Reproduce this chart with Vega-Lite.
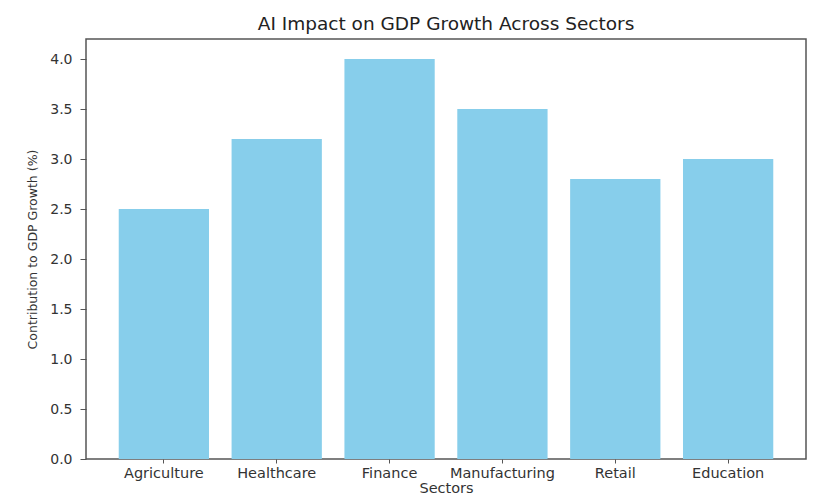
{
  "$schema": "https://vega.github.io/schema/vega-lite/v6.json",
  "width": 720,
  "height": 420,
  "autosize": {"type": "none"},
  "padding": {"left": 86, "top": 39, "right": 24, "bottom": 38},
  "background": "white",
  "title": {
    "text": "AI Impact on GDP Growth Across Sectors",
    "font": "DejaVu Sans",
    "fontSize": 18.5,
    "fontWeight": "normal",
    "color": "#222222",
    "anchor": "middle",
    "offset": 6
  },
  "data": {
    "values": [
      {"Sector": "Agriculture", "Contribution": 2.5},
      {"Sector": "Healthcare", "Contribution": 3.2},
      {"Sector": "Finance", "Contribution": 4.0},
      {"Sector": "Manufacturing", "Contribution": 3.5},
      {"Sector": "Retail", "Contribution": 2.8},
      {"Sector": "Education", "Contribution": 3.0}
    ]
  },
  "mark": {"type": "bar", "color": "#87CEEB"},
  "encoding": {
    "x": {
      "field": "Sector",
      "type": "nominal",
      "sort": null,
      "scale": {"paddingInner": 0.2, "paddingOuter": 0.29},
      "axis": {
        "title": "Sectors",
        "labelAngle": 0,
        "labelFont": "DejaVu Sans",
        "labelFontSize": 14.5,
        "labelColor": "#333333",
        "labelPadding": 3,
        "tickSize": 4,
        "tickColor": "#555555",
        "domain": false,
        "titleFont": "DejaVu Sans",
        "titleFontSize": 14.5,
        "titleFontWeight": "normal",
        "titleColor": "#333333",
        "titlePadding": 2
      }
    },
    "y": {
      "field": "Contribution",
      "type": "quantitative",
      "scale": {"domain": [0, 4.2], "nice": false, "zero": true},
      "axis": {
        "title": "Contribution to GDP Growth (%)",
        "values": [0, 0.5, 1, 1.5, 2, 2.5, 3, 3.5, 4],
        "format": ".1f",
        "grid": false,
        "domain": false,
        "labelFont": "DejaVu Sans",
        "labelFontSize": 14,
        "labelColor": "#333333",
        "labelPadding": 8,
        "tickSize": 6,
        "tickColor": "#555555",
        "titleFont": "DejaVu Sans",
        "titleFontSize": 12.5,
        "titleFontWeight": "normal",
        "titleColor": "#333333",
        "titlePadding": 10
      }
    }
  },
  "config": {
    "view": {"stroke": "#555555", "strokeWidth": 1.5}
  }
}
